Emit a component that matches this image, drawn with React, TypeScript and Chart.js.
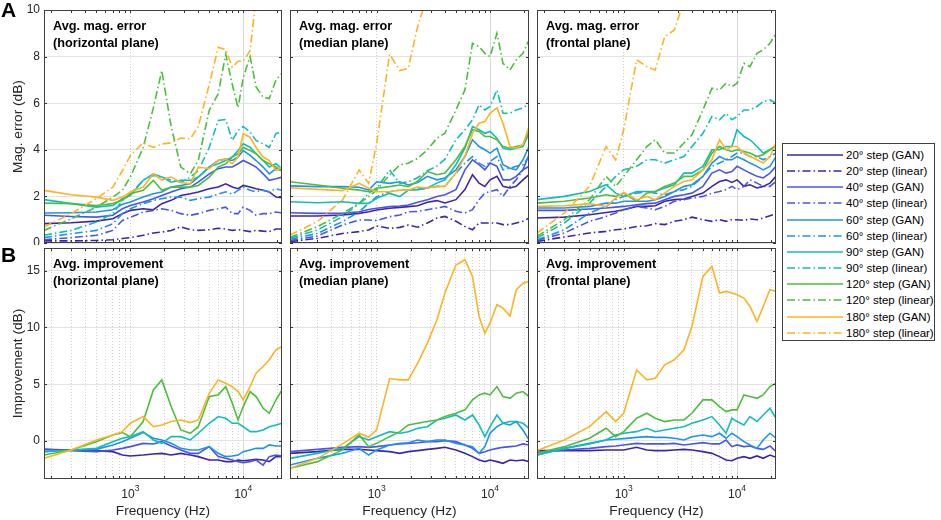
import { useEffect, useRef } from 'react';
import { Chart, registerables } from 'chart.js';

Chart.register(...registerables);

// sample frequencies (Hz) shared by every curve
const FREQ = [172, 300, 500, 700, 850, 1000, 1300, 1600, 1900, 2300, 2800, 3400, 4000, 5000, 6000, 7000, 8000, 9000, 10000, 11500, 13000, 15000, 17000, 19500, 22050];
const STEPS = ['20°', '40°', '60°', '90°', '120°', '180°'];
const COLORS = ['#3d26a8', '#4a55ee', '#1f93ee', '#12bdb9', '#4bbf3c', '#fdb322'];

const X_TICKS = [200, 300, 400, 500, 600, 700, 800, 900, 1000, 2000, 3000, 4000, 5000, 6000, 7000, 8000, 9000, 10000, 20000];
const ERR_TICKS = [0, 2, 4, 6, 8, 10];
const IMP_TICKS = [0, 5, 10, 15];

// Avg. mag. error, horizontal plane (rows: 20, 40, 60, 90, 120, 180 deg)
const HOR_GAN = [
  [0.83, 0.87, 0.94, 1.04, 1.26, 1.4, 1.47, 1.43, 1.69, 1.83, 2.04, 2.11, 2.19, 2.33, 2.4, 2.54, 2.4, 2.33, 2.47, 2.4, 2.33, 2.26, 2.19, 1.97, 1.94],
  [1.19, 1.14, 1.11, 1.19, 1.47, 1.61, 1.76, 1.9, 2.04, 2.19, 2.33, 2.4, 2.61, 2.97, 3.19, 3.26, 3.26, 3.4, 3.54, 3.4, 3.26, 2.97, 2.69, 2.76, 2.83],
  [1.29, 1.3, 1.33, 1.43, 1.66, 1.76, 1.97, 2.11, 2.19, 2.4, 2.47, 2.54, 2.83, 3.26, 3.54, 3.6, 3.54, 3.69, 3.97, 3.76, 3.54, 3.26, 2.97, 3.19, 3.1],
  [1.86, 1.69, 1.54, 1.61, 1.9, 2.04, 2.69, 2.97, 2.83, 2.61, 2.69, 2.69, 2.83, 3.26, 3.4, 3.54, 3.69, 3.97, 4.26, 4.11, 3.83, 3.54, 3.26, 3.4, 3.19],
  [1.71, 1.69, 1.61, 1.69, 1.83, 2.11, 2.26, 2.69, 2.26, 2.4, 2.4, 2.4, 2.47, 2.83, 3.26, 3.4, 3.69, 3.83, 4.1, 3.97, 3.83, 3.54, 3.4, 3.26, 3.1],
  [2.26, 2.07, 1.97, 1.83, 1.97, 2.19, 2.4, 2.97, 2.7, 2.83, 2.6, 2.54, 3.26, 3.19, 3.54, 3.6, 3.4, 3.69, 4.69, 4.54, 4.1, 3.69, 3.54, 3.1, 3.26],
];
const HOR_LIN = [
  [0.09, 0.09, 0.11, 0.14, 0.19, 0.23, 0.33, 0.43, 0.47, 0.54, 0.69, 0.57, 0.54, 0.57, 0.63, 0.6, 0.54, 0.57, 0.54, 0.49, 0.54, 0.51, 0.49, 0.6, 0.6],
  [0.14, 0.23, 0.33, 0.54, 0.97, 1.1, 1.33, 1.4, 1.47, 1.4, 1.26, 1.19, 1.26, 1.4, 1.47, 1.54, 1.26, 1.26, 1.54, 1.4, 1.19, 1.26, 1.26, 1.33, 1.29],
  [0.23, 0.4, 0.54, 0.83, 1.26, 1.47, 1.69, 1.83, 1.9, 1.97, 1.97, 1.83, 1.9, 1.97, 2.1, 2.2, 2.1, 2.26, 2.4, 2.26, 2.2, 2.26, 2.2, 2.33, 2.26],
  [0.33, 0.54, 0.9, 1.26, 1.83, 2.1, 2.7, 2.9, 2.83, 2.7, 2.6, 2.83, 3.1, 4.1, 5.26, 5.3, 4.4, 4.83, 5.0, 4.76, 4.4, 4.26, 4.1, 4.7, 4.76],
  [0.54, 1.04, 1.54, 1.97, 2.26, 2.83, 4.1, 5.8, 7.4, 5.0, 3.26, 2.97, 3.54, 5.7, 6.4, 8.1, 6.8, 5.8, 7.1, 8.0, 6.7, 6.26, 6.2, 7.0, 7.3],
  [0.69, 1.26, 1.9, 2.4, 3.1, 3.75, 4.3, 4.1, 4.25, 4.3, 4.5, 4.47, 5.0, 6.8, 8.4, 8.3, 7.55, 7.8, 7.8, 8.25, 10.5, 11.5, 12, 12.5, 13],
];

// Avg. mag. error, median plane
const MED_GAN = [
  [1.16, 1.16, 1.2, 1.27, 1.34, 1.42, 1.49, 1.53, 1.56, 1.6, 1.75, 1.82, 1.72, 1.86, 2.29, 2.93, 2.57, 2.43, 2.71, 2.86, 2.43, 2.36, 2.43, 2.71, 2.93],
  [1.3, 1.27, 1.27, 1.34, 1.44, 1.49, 1.56, 1.59, 1.63, 1.75, 1.86, 2.0, 2.07, 2.29, 3.14, 3.57, 3.36, 3.14, 3.43, 3.29, 2.71, 2.71, 2.86, 3.14, 3.79],
  [2.45, 2.42, 2.42, 2.39, 2.27, 2.63, 2.56, 2.63, 2.49, 2.6, 2.86, 2.71, 2.79, 3.14, 3.71, 4.43, 4.14, 4.0, 3.86, 4.07, 3.36, 3.21, 3.14, 3.57, 4.14],
  [1.77, 1.73, 1.77, 1.7, 1.7, 1.92, 2.13, 1.99, 2.27, 2.29, 2.36, 2.57, 2.71, 3.36, 4.07, 5.0, 4.86, 4.71, 4.79, 4.5, 4.07, 4.0, 4.07, 4.14, 4.71],
  [2.63, 2.49, 2.35, 2.27, 2.2, 2.35, 2.42, 2.49, 2.42, 2.65, 3.07, 2.93, 3.0, 3.57, 4.14, 4.86, 4.79, 4.57, 4.57, 4.43, 4.14, 4.07, 4.14, 4.21, 4.86],
  [2.37, 2.3, 2.25, 2.56, 2.35, 2.2, 2.2, 2.27, 2.27, 2.4, 2.36, 2.43, 2.43, 3.0, 3.71, 4.71, 5.14, 5.21, 5.57, 5.8, 5.14, 4.14, 4.07, 4.21, 5.0],
];
const MED_LIN = [
  [0.06, 0.2, 0.41, 0.49, 0.56, 0.73, 0.63, 0.67, 0.77, 0.68, 0.86, 1.07, 1.14, 0.93, 0.71, 0.57, 0.86, 0.86, 0.86, 0.86, 0.79, 0.79, 0.86, 0.93, 1.07],
  [0.1, 0.3, 0.77, 0.99, 0.99, 0.96, 1.13, 1.2, 1.34, 1.35, 1.43, 1.5, 1.57, 1.36, 1.29, 1.43, 1.86, 2.14, 2.21, 2.29, 2.0, 2.43, 2.71, 3.14, 3.29],
  [0.16, 0.41, 0.92, 1.34, 1.7, 1.99, 2.2, 2.27, 2.27, 2.3, 2.36, 2.43, 2.43, 3.0, 3.43, 3.71, 3.43, 3.29, 3.5, 3.71, 3.14, 3.21, 3.29, 3.36, 3.71],
  [0.2, 0.56, 1.13, 1.7, 2.13, 2.35, 3.13, 2.56, 2.63, 2.8, 3.1, 3.3, 3.6, 4.43, 4.86, 5.29, 5.93, 5.71, 5.86, 6.57, 5.57, 5.57, 5.71, 5.79, 6.0],
  [0.24, 0.7, 1.27, 1.7, 1.99, 2.27, 2.92, 3.35, 3.42, 3.63, 4.0, 4.5, 4.71, 5.71, 6.57, 8.57, 8.43, 8.14, 8.0, 9.0, 7.71, 7.43, 7.86, 8.14, 8.71],
  [0.34, 0.92, 1.85, 3.13, 2.56, 4.3, 8.1, 7.4, 7.5, 9.3, 10.6, 11.5, 12, 13, 14, 15, 15, 15, 15, 15, 15, 15, 15, 15, 15],
];

// Avg. mag. error, frontal plane
const FRO_GAN = [
  [1.07, 1.11, 1.21, 1.31, 1.36, 1.43, 1.57, 1.57, 1.6, 1.79, 1.86, 1.89, 2.0, 2.14, 2.43, 2.64, 2.71, 2.6, 2.71, 2.43, 2.5, 2.36, 2.43, 2.57, 2.86],
  [1.4, 1.4, 1.46, 1.5, 1.54, 1.57, 1.64, 1.69, 1.71, 1.86, 2.0, 2.07, 2.14, 2.43, 3.0, 3.14, 3.0, 3.07, 3.29, 3.14, 3.0, 2.86, 2.79, 3.0, 3.29],
  [1.5, 1.5, 1.57, 1.71, 1.71, 1.79, 1.79, 1.79, 1.86, 2.0, 2.21, 2.43, 2.5, 2.86, 3.43, 3.71, 3.57, 3.57, 3.71, 3.57, 3.43, 3.29, 3.14, 3.29, 3.71],
  [1.86, 2.0, 2.21, 2.5, 2.14, 2.0, 2.21, 2.21, 2.21, 2.36, 2.5, 3.0, 3.0, 3.29, 4.0, 4.0, 4.14, 4.14, 4.86, 4.57, 4.43, 4.14, 3.86, 4.0, 4.14],
  [1.71, 1.79, 1.93, 2.07, 2.0, 2.14, 1.79, 2.14, 2.21, 2.43, 2.57, 2.86, 2.86, 3.14, 3.86, 4.14, 4.0, 3.93, 4.0, 3.93, 3.86, 3.71, 3.79, 4.0, 4.21],
  [1.57, 1.6, 1.69, 1.57, 1.93, 2.17, 1.86, 2.0, 1.86, 2.14, 2.43, 2.64, 2.71, 3.14, 3.57, 4.43, 4.0, 4.14, 4.14, 3.86, 3.71, 3.57, 3.43, 3.71, 4.29],
];
const FRO_LIN = [
  [0.07, 0.26, 0.43, 0.5, 0.57, 0.6, 0.71, 0.74, 0.83, 0.79, 0.93, 1.0, 1.11, 1.0, 0.93, 1.0, 0.93, 1.0, 1.0, 0.97, 1.03, 1.0, 1.07, 1.17, 1.26],
  [0.11, 0.43, 0.93, 1.14, 1.29, 1.43, 1.57, 1.5, 1.43, 1.57, 1.79, 1.86, 1.93, 2.0, 2.14, 2.21, 2.29, 2.43, 2.29, 2.43, 2.71, 2.57, 2.43, 2.43, 2.64],
  [0.14, 0.57, 1.29, 1.57, 1.86, 2.0, 2.14, 2.21, 2.14, 2.07, 2.21, 2.29, 2.43, 2.86, 3.29, 3.43, 3.57, 3.71, 3.86, 3.86, 3.71, 3.71, 3.57, 3.71, 3.86],
  [0.21, 0.86, 1.71, 2.43, 2.86, 3.14, 3.29, 3.57, 3.57, 3.43, 3.57, 3.71, 4.14, 4.71, 5.43, 5.29, 5.57, 5.29, 5.43, 5.71, 5.71, 5.86, 6.07, 6.14, 6.0],
  [0.29, 1.0, 1.86, 2.86, 2.43, 2.86, 3.57, 4.14, 4.43, 3.86, 3.86, 4.29, 4.64, 5.71, 6.64, 6.57, 6.86, 6.71, 6.86, 7.71, 7.57, 8.14, 8.29, 8.57, 9.0],
  [0.43, 1.29, 2.43, 4.14, 3.57, 4.86, 7.86, 7.57, 7.43, 8.86, 9.14, 10.4, 11, 12, 13, 14, 14, 14, 14, 14, 14, 14, 14, 14, 14],
];

// Avg. improvement per plane
const HOR_IMP = [
  [-0.74, -0.79, -0.85, -0.94, -1.24, -1.32, -1.24, -1.15, -1.09, -1.24, -1.09, -1.24, -1.38, -1.68, -1.68, -1.82, -1.82, -1.68, -1.74, -1.68, -1.62, -1.68, -1.82, -1.38, -1.38],
  [-0.74, -0.85, -0.94, -0.79, -0.65, -0.5, -0.21, -0.26, -0.06, -0.44, -0.79, -1.09, -1.09, -0.5, -1.38, -1.53, -1.68, -1.82, -1.91, -1.82, -1.68, -2.12, -1.38, -1.24, -1.32],
  [-0.94, -0.79, -0.74, -0.35, -0.06, 0.24, 0.74, 0.24, 0.09, -0.21, -0.65, -0.79, -0.79, -0.5, -1.09, -1.38, -1.32, -1.24, -0.94, -0.79, -0.65, -0.65, -0.35, -0.44, -0.44],
  [-0.94, -0.79, -0.65, -0.06, 0.24, 0.38, 0.82, 0.09, -0.21, 0.38, 0.38, 0.09, 0.68, 1.56, 2.15, 2.0, 1.56, 1.56, 1.26, 0.82, 0.82, 0.97, 1.26, 1.41, 1.56],
  [-1.24, -0.79, -0.06, 0.53, 0.74, 0.38, 1.71, 4.5, 5.38, 3.03, 0.97, 0.68, 1.26, 3.91, 4.06, 4.79, 3.32, 1.85, 3.03, 4.35, 3.91, 2.88, 2.44, 3.62, 4.5],
  [-1.53, -0.79, 0.09, 0.53, 0.82, 1.56, 2.15, 1.26, 1.41, 1.71, 1.85, 1.62, 1.85, 4.2, 5.38, 5.09, 4.79, 4.35, 3.62, 4.79, 5.97, 6.56, 7.15, 8.03, 8.32],
];
const MED_IMP = [
  [-1.09, -0.94, -0.74, -0.74, -0.79, -0.85, -0.94, -1.09, -0.94, -0.85, -0.74, -0.65, -0.56, -0.79, -1.09, -1.38, -1.68, -1.82, -1.68, -1.82, -1.97, -1.68, -1.74, -1.68, -1.82],
  [-0.94, -0.74, -0.56, -0.5, -0.56, -0.5, -0.35, -0.26, -0.21, -0.15, -0.06, -0.06, 0.03, -0.06, -0.35, -0.65, -1.09, -0.94, -0.79, -0.65, -0.56, -0.5, -0.44, -0.26, -0.35],
  [-2.12, -1.53, -1.09, -0.65, -1.24, -0.79, -0.35, -0.21, -0.15, 0.09, -0.06, 0.09, 0.09, -0.21, -0.35, -0.5, -1.09, -0.5, 0.68, 1.26, 1.56, 1.41, 1.71, 0.97, 0.09],
  [-1.53, -1.09, -0.65, 0.38, 0.09, 0.38, 0.82, 0.68, 0.82, 1.12, 1.26, 1.85, 2.0, 2.29, 1.85, 2.29, 1.41, 0.38, 1.26, 2.29, 1.56, 1.71, 1.71, 1.56, 1.12],
  [-2.41, -1.82, -0.79, 0.53, -0.5, -0.21, 0.38, 0.82, 1.41, 1.56, 1.71, 1.85, 2.15, 2.44, 2.74, 3.62, 4.06, 4.21, 4.06, 4.79, 3.91, 3.76, 4.21, 4.35, 3.91],
  [-2.41, -1.53, -0.26, 0.68, 0.32, 1.0, 5.5, 5.38, 5.38, 6.85, 8.62, 10.68, 13.03, 15.5, 15.97, 14.5, 10.97, 9.5, 10.4, 12.0, 11.7, 11.0, 13.3, 13.9, 14.06],
];
const FRO_IMP = [
  [-0.85, -0.85, -0.85, -0.79, -0.79, -0.79, -0.56, -0.79, -0.85, -0.85, -0.79, -0.74, -0.79, -0.94, -1.09, -1.38, -1.68, -1.74, -1.53, -1.38, -1.53, -1.32, -1.53, -1.24, -1.44],
  [-1.03, -0.79, -0.65, -0.5, -0.44, -0.35, -0.21, -0.26, -0.26, -0.26, -0.21, -0.35, -0.26, -0.15, -0.26, -0.26, 0.09, -0.5, -0.35, -0.5, -0.44, -0.65, -0.74, -0.44, -0.94],
  [-1.24, -0.65, -0.21, 0.09, 0.15, 0.21, 0.32, 0.38, 0.32, 0.32, 0.24, 0.09, 0.38, 0.53, 0.38, 0.68, 0.24, 0.68, 0.38, -0.06, -0.35, -0.65, 0.09, 0.68, 0.24],
  [-1.24, -0.65, -0.26, 0.09, 0.53, 0.68, 0.82, 1.12, 0.82, 0.97, 1.12, 1.26, 1.56, 1.85, 2.15, 1.41, 0.68, 2.0, 1.71, 1.41, 2.15, 1.71, 2.29, 2.88, 2.0],
  [-1.09, -0.5, 0.24, 1.12, 0.38, 0.82, 2.0, 2.44, 2.0, 1.71, 1.85, 1.85, 2.44, 3.62, 3.62, 3.03, 2.59, 2.74, 2.74, 4.06, 3.91, 3.76, 4.06, 4.79, 5.09],
  [-0.85, 0.09, 1.26, 2.59, 1.71, 2.44, 6.26, 5.38, 5.53, 6.71, 7.15, 8.03, 10.09, 14.5, 15.38, 13.03, 13.18, 13.03, 12.88, 12.59, 11.85, 10.53, 11.85, 13.32, 13.18],
];

const FONT = '"Liberation Sans", Arial, Helvetica, sans-serif';
const DASH_DOT = [8, 3, 1.5, 3];

const COL_LEFT = [44, 290, 537];
const COL_W = [238, 239, 239];
const ROW_TOP = [10, 248];
const ROW_H = [233, 231];

interface PanelSpec {
  row: number;
  col: number;
  title: string[];
  gan?: number[][];
  lin?: number[][];
  imp?: number[][];
}

const PANELS: PanelSpec[] = [
  { row: 0, col: 0, title: ['Avg. mag. error', '(horizontal plane)'], gan: HOR_GAN, lin: HOR_LIN },
  { row: 0, col: 1, title: ['Avg. mag. error', '(median plane)'], gan: MED_GAN, lin: MED_LIN },
  { row: 0, col: 2, title: ['Avg. mag. error', '(frontal plane)'], gan: FRO_GAN, lin: FRO_LIN },
  { row: 1, col: 0, title: ['Avg. improvement', '(horizontal plane)'], imp: HOR_IMP },
  { row: 1, col: 1, title: ['Avg. improvement', '(median plane)'], imp: MED_IMP },
  { row: 1, col: 2, title: ['Avg. improvement', '(frontal plane)'], imp: FRO_IMP },
];

const toPoints = (vals: number[]) => FREQ.map((f, i) => ({ x: f, y: vals[i] }));

function buildDatasets(spec: PanelSpec) {
  const out: any[] = [];
  STEPS.forEach((_, s) => {
    const series = spec.imp ? [{ v: spec.imp[s], dash: [] as number[] }] : [
      { v: spec.gan![s], dash: [] as number[] },
      { v: spec.lin![s], dash: DASH_DOT },
    ];
    series.forEach((it) => {
      out.push({
        data: toPoints(it.v),
        borderColor: COLORS[s],
        borderWidth: 1.6,
        borderDash: it.dash,
        pointRadius: 0,
        tension: 0,
        fill: false,
        clip: 0,
        order: -out.length,
      });
    });
  });
  return out;
}

function framePlugin(spec: PanelSpec) {
  const yTicks = spec.row === 0 ? ERR_TICKS : IMP_TICKS;
  return {
    id: 'frame',
    afterDraw(chart: any) {
      const { ctx, chartArea: a, scales } = chart;
      const xs = scales.x;
      const ys = scales.y;
      ctx.save();
      // inward tick marks on all four sides
      ctx.strokeStyle = '#333';
      ctx.lineWidth = 1;
      ctx.beginPath();
      X_TICKS.forEach((v) => {
        const px = Math.round(xs.getPixelForValue(v)) + 0.5;
        ctx.moveTo(px, a.bottom);
        ctx.lineTo(px, a.bottom - 3);
        ctx.moveTo(px, a.top);
        ctx.lineTo(px, a.top + 3);
      });
      yTicks.forEach((v) => {
        const py = Math.round(ys.getPixelForValue(v)) + 0.5;
        ctx.moveTo(a.left, py);
        ctx.lineTo(a.left + 3, py);
        ctx.moveTo(a.right, py);
        ctx.lineTo(a.right - 3, py);
      });
      ctx.stroke();
      ctx.strokeStyle = '#404040';
      ctx.strokeRect(a.left + 0.5, a.top + 0.5, a.right - a.left - 1, a.bottom - a.top - 1);

      // panel title
      ctx.fillStyle = '#000';
      ctx.font = `bold 12.7px ${FONT}`;
      ctx.textAlign = 'left';
      ctx.textBaseline = 'middle';
      ctx.fillText(spec.title[0], a.left + 9, a.top + 16);
      ctx.fillText(spec.title[1], a.left + 9, a.top + 33);

      ctx.fillStyle = '#262626';
      if (spec.col === 0) {
        ctx.font = `12px ${FONT}`;
        ctx.textAlign = 'right';
        yTicks.forEach((v) => ctx.fillText(String(v), a.left - 4, ys.getPixelForValue(v)));
        ctx.save();
        ctx.translate(a.left - 26, (a.top + a.bottom) / 2);
        ctx.rotate(-Math.PI / 2);
        ctx.textAlign = 'center';
        ctx.font = `13.7px ${FONT}`;
        ctx.fillText(spec.row === 0 ? 'Mag. error (dB)' : 'Improvement (dB)', 0, 0);
        ctx.restore();
      }
      if (spec.row === 1) {
        [1000, 10000].forEach((v) => {
          const px = xs.getPixelForValue(v);
          const exp = String(Math.round(Math.log10(v)));
          ctx.font = `12px ${FONT}`;
          const w1 = ctx.measureText('10').width;
          ctx.font = `8.5px ${FONT}`;
          const w2 = ctx.measureText(exp).width;
          const x0 = px - (w1 + w2) / 2;
          ctx.textAlign = 'left';
          ctx.font = `12px ${FONT}`;
          ctx.fillText('10', x0, a.bottom + 16);
          ctx.font = `8.5px ${FONT}`;
          ctx.fillText(exp, x0 + w1, a.bottom + 10);
        });
        ctx.font = `13.7px ${FONT}`;
        ctx.textAlign = 'center';
        ctx.fillText('Frequency (Hz)', (a.left + a.right) / 2, a.bottom + 32);
      }
      ctx.restore();
    },
  };
}

function Panel({ spec }: { spec: PanelSpec }) {
  const canvasRef = useRef<HTMLCanvasElement>(null);
  const padL = spec.col === 0 ? 44 : 2;
  const padR = 2;
  const padT = spec.row === 0 ? 10 : 3;
  const padB = spec.row === 0 ? 2 : 41;
  const w = COL_W[spec.col] + padL + padR;
  const h = ROW_H[spec.row] + padT + padB;

  useEffect(() => {
    if (!canvasRef.current) return;
    const top = spec.row === 0;
    const chart = new Chart(canvasRef.current, {
      type: 'line',
      data: { datasets: buildDatasets(spec) },
      options: {
        responsive: false,
        maintainAspectRatio: false,
        animation: false,
        events: [],
        layout: { padding: { left: padL, right: padR, top: padT, bottom: padB }, autoPadding: false },
        plugins: { legend: { display: false }, tooltip: { enabled: false } },
        scales: {
          x: {
            type: 'logarithmic',
            min: 172,
            max: 22050,
            afterBuildTicks: (s: any) => { s.ticks = X_TICKS.map((v) => ({ value: v })); },
            afterFit: (s: any) => { s.height = 0; },
            ticks: { display: false },
            grid: {
              drawTicks: false,
              lineWidth: 1,
              color: (c: any) => {
                const v = c.tick ? c.tick.value : 0;
                if (v === 10000) return '#d9d9d9';
                if (v === 1000) return '#cfcfcf';
                return top ? 'rgba(0,0,0,0)' : '#d0d0d0';
              },
            },
            border: { display: false, dash: (c: any) => (c.tick && c.tick.value === 10000 ? [] : [1, 2]) },
          },
          y: {
            type: 'linear',
            min: top ? 0 : -3.35,
            max: top ? 10 : 17,
            afterBuildTicks: (s: any) => { s.ticks = (top ? ERR_TICKS : IMP_TICKS).map((v) => ({ value: v })); },
            afterFit: (s: any) => { s.width = 0; },
            ticks: { display: false },
            grid: { drawTicks: false, color: '#e3e3e3', lineWidth: 1 },
            border: { display: false },
          },
        },
      },
      plugins: [framePlugin(spec)],
    } as any);
    return () => chart.destroy();
  }, [spec]);

  return (
    <canvas
      ref={canvasRef}
      width={w}
      height={h}
      style={{ position: 'absolute', left: COL_LEFT[spec.col] - padL, top: ROW_TOP[spec.row] - padT, width: w, height: h }}
    />
  );
}

function Legend() {
  const rows: { label: string; color: string; dash: boolean }[] = [];
  STEPS.forEach((s, i) => {
    rows.push({ label: `${s} step (GAN)`, color: COLORS[i], dash: false });
    rows.push({ label: `${s} step (linear)`, color: COLORS[i], dash: true });
  });
  return (
    <div style={{ position: 'absolute', left: 782, top: 143, width: 153, height: 198, border: '1px solid #404040', boxSizing: 'border-box', background: '#fff' }}>
      {rows.map((r, i) => {
        const cy = 11 + i * 16.15;
        return (
          <div key={r.label}>
            <svg width={56} height={4} style={{ position: 'absolute', left: 4, top: cy - 2 }}>
              <line x1={0} y1={2} x2={56} y2={2} stroke={r.color} strokeWidth={1.6} strokeDasharray={r.dash ? DASH_DOT.join(' ') : undefined} />
            </svg>
            <span style={{ position: 'absolute', left: 63, top: cy - 7, fontSize: 11.5, lineHeight: '14px', color: '#000', whiteSpace: 'nowrap' }}>{r.label}</span>
          </div>
        );
      })}
    </div>
  );
}

export default function App() {
  return (
    <div style={{ position: 'absolute', left: 0, top: 0, width: 941, height: 520, background: '#fff', fontFamily: FONT, overflow: 'hidden' }}>
      {PANELS.map((p) => <Panel key={`${p.row}-${p.col}`} spec={p} />)}
      <div style={{ position: 'absolute', left: 1, top: -1, fontSize: 21, lineHeight: '21px', fontWeight: 'bold' }}>A</div>
      <div style={{ position: 'absolute', left: 1, top: 244, fontSize: 21, lineHeight: '21px', fontWeight: 'bold' }}>B</div>
      <Legend />
    </div>
  );
}
